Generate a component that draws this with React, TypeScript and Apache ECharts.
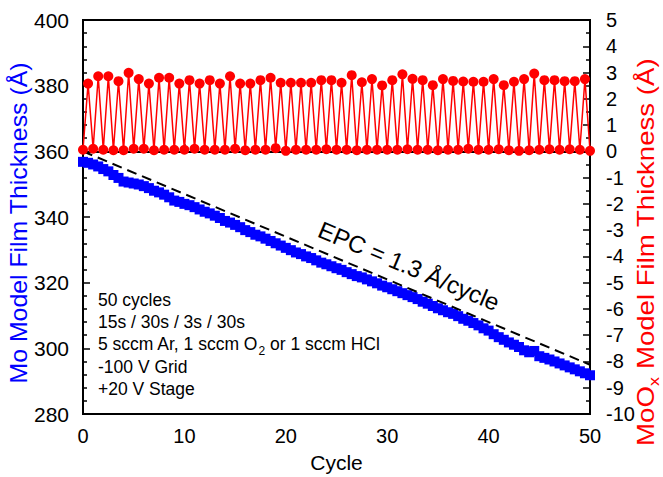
import React, { useEffect, useRef } from "react";
import * as echarts from "echarts";

const FONT = 'Arial, "Liberation Sans", sans-serif';

// Red series: MoOx thickness, troughs at integer cycles, peaks at half cycles
const redTroughs = [
  0.06, 0.10, 0.06, 0.04, 0.04, 0.10, 0.10, 0.04, 0.06, 0.06,
  0.06, 0.10, 0.06, 0.06, 0.06, 0.10, 0.04, 0.06, 0.06, 0.12,
  0.02, 0.06, 0.06, 0.06, 0.08, 0.06, 0.06, 0.04, 0.06, 0.06,
  0.06, 0.06, 0.08, 0.06, 0.06, 0.04, 0.06, 0.06, 0.10, 0.06,
  0.06, 0.08, 0.04, 0.02, 0.04, 0.06, 0.08, 0.06, 0.08, 0.06,
  0.02,
];
const redPeaks = [
  2.58, 2.86, 2.86, 2.67, 2.99, 2.75, 2.58, 2.80, 2.80, 2.58,
  2.71, 2.58, 2.71, 2.58, 2.86, 2.58, 2.58, 2.71, 2.80, 2.61,
  2.61, 2.61, 2.61, 2.71, 2.71, 2.61, 2.90, 2.63, 2.75, 2.51,
  2.71, 2.93, 2.76, 2.71, 2.52, 2.75, 2.68, 2.66, 2.65, 2.65,
  2.75, 2.52, 2.65, 2.75, 2.96, 2.71, 2.71, 2.67, 2.67, 2.75,
];

// Blue series: Mo thickness at every half cycle (0, 0.5, ..., 50)
const blueValues = [
  356.8, 356.5, 356.0, 355.4, 354.6, 353.9, 352.8, 351.9, 350.8, 350.5,
  350.2, 349.9, 349.4, 348.8, 348.0, 347.5, 346.8, 346.0, 345.0, 344.6,
  344.0, 343.6, 343.0, 342.3, 341.6, 341.1, 340.4, 339.7, 338.8, 338.3,
  337.6, 336.9, 336.0, 335.4, 334.6, 334.1, 333.4, 332.7, 332.0, 331.3,
  330.6, 329.9, 329.2, 328.7, 328.0, 327.5, 326.8, 326.1, 325.6, 325.0,
  324.4, 323.9, 323.2, 322.6, 322.0, 321.6, 321.0, 320.4, 319.8, 319.1,
  318.6, 318.0, 317.4, 316.8, 316.2, 315.6, 315.0, 314.2, 313.6, 312.9,
  312.2, 311.6, 311.0, 310.5, 309.8, 309.0, 308.4, 307.7, 307.0, 306.1,
  305.4, 304.3, 303.4, 302.6, 301.8, 301.1, 300.4, 299.4, 298.8, 299.2,
  297.6, 297.1, 296.6, 296.0, 295.4, 294.8, 294.2, 293.6, 293.0, 292.4,
  291.8,
];

// EPC fit line endpoints
const fitLine = [
  [0, 360],
  [50, 295],
];

const xTicks = { min: 0, max: 50, interval: 10 };
const leftTicks = { min: 280, max: 400, interval: 20 };
const rightTicks = { min: -10, max: 5, interval: 1 };

const annotationLines = [
  "{a|50 cycles}",
  "{a|15s / 30s / 3s / 30s}",
  "{a|5 sccm Ar, 1 sccm O}{s|2}{a| or 1 sccm HCl}",
  "{a|-100 V Grid}",
  "{a|+20 V Stage}",
];

export default function App() {
  const ref = useRef<HTMLDivElement>(null);
  useEffect(() => {
    document.body.style.margin = "0";
    const chart = echarts.init(ref.current!, undefined, { renderer: "svg" });

    const redData: number[][] = [];
    for (let i = 0; i < redTroughs.length; i++) {
      redData.push([i, redTroughs[i]]);
      if (i < redPeaks.length) redData.push([i + 0.5, redPeaks[i]]);
    }
    const blueData = blueValues.map((v, i) => [i * 0.5, v]);

    const axisCommon = {
      axisLine: { show: true, lineStyle: { color: "#000", width: 2 } },
      axisTick: { show: true, inside: true, length: 7, lineStyle: { color: "#000", width: 1.5 } },
      minorTick: { show: true, length: 4, lineStyle: { color: "#000", width: 1.5 } },
      splitLine: { show: false },
      axisLabel: { color: "#000", fontSize: 20, fontFamily: FONT },
    };

    const option: any = {
      animation: false,
      grid: {
        left: 83,
        right: 73,
        top: 20,
        bottom: 63,
        outerBoundsMode: "none",
        containLabel: false,
        show: true,
        borderColor: "#000",
        borderWidth: 2,
        backgroundColor: "transparent",
      },
      xAxis: {
        type: "value",
        ...xTicks,
        ...axisCommon,
        minorTick: { ...axisCommon.minorTick, splitNumber: 10 },
        axisLabel: { ...axisCommon.axisLabel, margin: 12 },
        name: "Cycle",
        nameLocation: "middle",
        nameGap: 38,
        nameTextStyle: { color: "#000", fontSize: 21, fontFamily: FONT },
      },
      yAxis: [
        {
          type: "value",
          position: "left",
          ...leftTicks,
          ...axisCommon,
          minorTick: { ...axisCommon.minorTick, splitNumber: 5 },
          axisLabel: { ...axisCommon.axisLabel, fontSize: 21, margin: 14 },
        },
        {
          type: "value",
          position: "right",
          ...rightTicks,
          ...axisCommon,
          minorTick: { ...axisCommon.minorTick, splitNumber: 2 },
          axisLabel: { ...axisCommon.axisLabel, margin: 16 },
        },
      ],
      series: [
        {
          type: "line",
          yAxisIndex: 0,
          data: blueData,
          symbol: "rect",
          symbolSize: 10,
          clip: false,
          itemStyle: { color: "#0000ff" },
          lineStyle: { color: "#0000ff", width: 1.5 },
          z: 2,
        },
        {
          type: "line",
          yAxisIndex: 0,
          data: fitLine,
          symbol: "none",
          lineStyle: { color: "#000", width: 2, type: [10, 6] },
          z: 3,
        },
        {
          type: "line",
          yAxisIndex: 1,
          data: redData,
          symbol: "circle",
          symbolSize: 10,
          clip: false,
          itemStyle: { color: "#ff0000" },
          lineStyle: { color: "#ff0000", width: 1.5 },
          z: 4,
        },
      ],
      graphic: [
        {
          type: "text",
          x: 19,
          y: 223,
          rotation: Math.PI / 2,
          scaleX: 1.08,
          z: 10,
          style: {
            text: "Mo Model Film Thickness (Å)",
            fill: "#0000ff",
            fontSize: 23,
            fontFamily: FONT,
            align: "center",
            verticalAlign: "middle",
          },
        },
        {
          type: "text",
          x: 648,
          y: 252,
          rotation: Math.PI / 2,
          scaleX: 1.2,
          z: 10,
          style: {
            text: "{m|MoO}{s|x}{m| Model Film Thickness (Å)}",
            fill: "#ff0000",
            fontSize: 23,
            fontFamily: FONT,
            align: "center",
            verticalAlign: "middle",
            rich: {
              m: { fill: "#ff0000", fontSize: 23, fontFamily: FONT, lineHeight: 28, verticalAlign: "top" },
              s: { fill: "#ff0000", fontSize: 15, fontFamily: FONT, lineHeight: 15, verticalAlign: "bottom" },
            },
          },
        },
        {
          type: "text",
          x: 409,
          y: 266,
          rotation: -0.398,
          z: 10,
          style: {
            text: "EPC = 1.3 Å/cycle",
            fill: "#000",
            fontSize: 24,
            fontFamily: FONT,
            align: "center",
            verticalAlign: "middle",
          },
        },
        ...annotationLines.map((t, i) => ({
          type: "text",
          x: 98,
          y: 302 + i * 22.2,
          z: 10,
          style: {
            text: t,
            fill: "#000",
            fontSize: 17.5,
            fontFamily: FONT,
            align: "left",
            verticalAlign: "middle",
            rich: {
              a: { fill: "#000", fontSize: 17.5, fontFamily: FONT, lineHeight: 22, verticalAlign: "top" },
              s: { fill: "#000", fontSize: 12, fontFamily: FONT, lineHeight: 12, verticalAlign: "bottom" },
            },
          },
        })),
      ],
    };
    chart.setOption(option);
    return () => chart.dispose();
  }, []);
  return <div ref={ref} style={{ width: 663, height: 477 }} />;
}
